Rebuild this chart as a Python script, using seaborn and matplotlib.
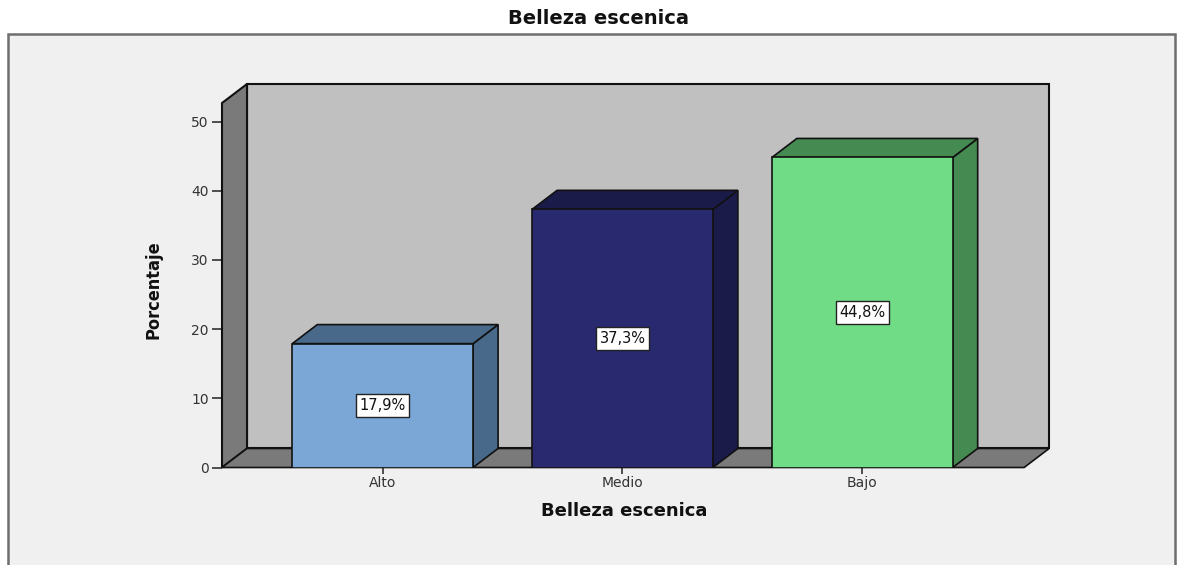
import matplotlib
matplotlib.use("Agg")
import matplotlib.pyplot as plt
from matplotlib.patches import Polygon, Rectangle
import seaborn as sns

# ---- data ----
categories = ["Alto", "Medio", "Bajo"]
values = [17.9, 37.3, 44.8]
front_colors = ["#7BA7D7", "#29296F", "#70DD86"]
side_colors = ["#48698A", "#1B1B4A", "#458A51"]
y_ticks = [0, 10, 20, 30, 40, 50]
title = "Belleza escenica"
xlabel = "Belleza escenica"
ylabel = "Porcentaje"

sns.set_style("white")
plt.rcParams["font.family"] = ["DejaVu Sans"]

W, H = 1178, 565
fig = plt.figure(figsize=(W / 100, H / 100), dpi=100)
fig.patch.set_facecolor("white")

# outer frame
fig.patches.append(Rectangle((8 / W, -0.05), (1175 - 8) / W, 1.05 - 34 / H,
                             transform=fig.transFigure, facecolor="#F0F0F0",
                             edgecolor="#6E6E6E", linewidth=1.8, zorder=-5))

# geometry (data units)
x_left, x_right = -0.67, 2.675
wall_top = 52.67
dx, dy = 0.1043, 2.75
px_per_x, px_per_y = 239.8, 6.92
y0_px, x0_px = 467.5, 222

ax_w = (x_right + dx - x_left) * px_per_x
ax_h = (wall_top + dy) * px_per_y
ax = fig.add_axes([x0_px / W, 1 - y0_px / H, ax_w / W, ax_h / H])
ax.set_facecolor("none")
ax.patch.set_alpha(0)
ax.set_xlim(x_left, x_right + dx)
ax.set_ylim(0, wall_top + dy)

# walls
ec = "#111111"
back = Polygon([(x_left + dx, dy), (x_right + dx, dy), (x_right + dx, wall_top + dy),
                (x_left + dx, wall_top + dy)], closed=True, facecolor="#C0C0C0",
               edgecolor=ec, linewidth=1.5, zorder=0.5, clip_on=False)
left = Polygon([(x_left, 0), (x_left, wall_top), (x_left + dx, wall_top + dy),
                (x_left + dx, dy)], closed=True, facecolor="#7A7A7A",
               edgecolor=ec, linewidth=1.5, zorder=0.6, clip_on=False)
floor = Polygon([(x_left, 0), (x_right, 0), (x_right + dx, dy), (x_left + dx, dy)],
                closed=True, facecolor="#7A7A7A", edgecolor=ec, linewidth=1.2,
                zorder=0.6, clip_on=False)
for p in (back, left, floor):
    ax.add_patch(p)

bw = 0.754
sns.barplot(x=categories, y=values, hue=categories, palette=front_colors,
            order=categories, hue_order=categories, width=bw, legend=False,
            edgecolor=ec, linewidth=1.2, saturation=1, ax=ax)
for bar in ax.patches:
    if bar not in (back, left, floor):
        bar.set_zorder(3)

for i, (v, sc) in enumerate(zip(values, side_colors)):
    xl, xr = i - bw / 2, i + bw / 2
    side = Polygon([(xr, 0), (xr + dx, dy), (xr + dx, v + dy), (xr, v)], closed=True,
                   facecolor=sc, edgecolor=ec, linewidth=1.2, zorder=2.9, clip_on=False)
    top = Polygon([(xl, v), (xl + dx, v + dy), (xr + dx, v + dy), (xr, v)], closed=True,
                  facecolor=sc, edgecolor=ec, linewidth=1.2, zorder=2.9, clip_on=False)
    ax.add_patch(side)
    ax.add_patch(top)
    ax.text(i, v / 2, f"{v:.1f}%".replace(".", ","), ha="center", va="center",
            fontsize=10.5, color="#111111", zorder=5,
            bbox=dict(boxstyle="square,pad=0.25", facecolor="white",
                      edgecolor="#222222", linewidth=1))

ax.set_xlim(x_left, x_right + dx)
ax.set_ylim(0, wall_top + dy)
for s in ax.spines.values():
    s.set_visible(False)
ax.set_yticks(y_ticks)
ax.set_yticklabels([str(t) for t in y_ticks])
ax.set_xticks(range(len(categories)))
ax.set_xticklabels(categories)
ax.tick_params(axis="y", direction="out", length=7.5, width=1.2, color="#333333",
               labelsize=10, labelcolor="#333333", pad=2, left=True)
ax.tick_params(axis="x", direction="out", length=4, width=1.2, color="#333333",
               labelsize=10, labelcolor="#333333", pad=2, bottom=True)

ax.set_xlabel(xlabel, fontsize=13, fontweight="bold", color="#111111")
ax.xaxis.set_label_coords((624 - x0_px) / ax_w, (y0_px - 502) / ax_h)
ax.set_ylabel(ylabel, fontsize=13, fontweight="bold", color="#111111",
              fontstretch="condensed")
ax.yaxis.set_label_coords((162 - x0_px) / ax_w, (y0_px - 290) / ax_h)

fig.text(598 / W, 1 - 19 / H, title, ha="center", va="center", fontsize=14,
         fontweight="bold", color="#111111")

fig.savefig("out.png", dpi=100)
